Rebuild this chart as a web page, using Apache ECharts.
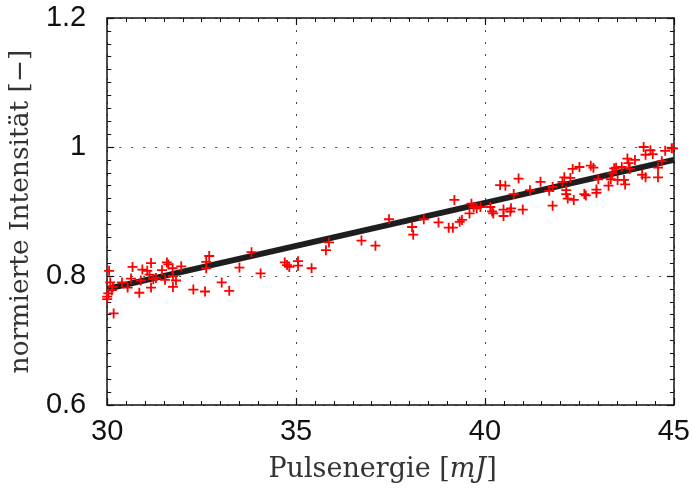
<!DOCTYPE html>
<html>
<head>
<meta charset="utf-8">
<script src="https://cdn.jsdelivr.net/npm/echarts@6/dist/echarts.min.js"></script>
<style>
html, body { margin: 0; padding: 0; background: #fff; }
#chart { width: 693px; height: 488px; }
</style>
</head>
<body>
<div id="chart"></div>
<script>
// Messpunkte (Pulsenergie in mJ, normierte Intensität)
var pulseX = [
  30.05, 30.08, 30.15, 30.12, 30.03, 30.00, 30.00, 30.17, 30.39, 30.54,
  30.63, 30.67, 30.85, 30.89, 30.93, 31.06, 31.16, 31.16, 31.12, 31.22,
  31.29, 31.45, 31.53, 31.58, 31.62, 31.73, 31.74, 31.82, 31.74, 31.96,
  32.28, 32.59, 32.62, 32.70, 32.62, 33.03, 33.23, 33.50, 33.82, 34.06,
  34.70, 34.76, 34.82, 35.05, 35.05, 35.41, 35.79, 35.87, 36.73, 37.10,
  37.46, 38.07, 38.10, 38.38, 38.77, 39.04, 39.15, 39.19, 39.33, 39.39,
  39.59, 39.64, 39.70, 39.78, 39.88, 40.14, 40.19, 40.22, 40.40, 40.54,
  40.49, 40.49, 40.69, 40.67, 40.76, 40.89, 41.00, 41.19, 41.47, 41.70,
  41.79, 41.79, 42.05, 42.10, 42.15, 42.15, 42.19, 42.26, 42.32, 42.35,
  42.50, 42.63, 42.67, 42.80, 42.87, 42.95, 42.95, 43.00, 43.27, 43.33,
  43.37, 43.42, 43.47, 43.51, 43.62, 43.68, 43.71, 43.77, 43.80, 43.83,
  43.97, 44.16, 44.25, 44.20, 44.25, 44.38, 44.44, 44.58, 44.58, 44.68,
  44.77, 44.94, 44.98
];
var intensY = [
  0.808, 0.790, 0.783, 0.778, 0.773, 0.768, 0.764, 0.742, 0.790, 0.782,
  0.796, 0.814, 0.774, 0.793, 0.810, 0.808, 0.820, 0.782, 0.802, 0.795,
  0.797, 0.809, 0.794, 0.821, 0.818, 0.812, 0.800, 0.793, 0.783, 0.815,
  0.779, 0.776, 0.822, 0.831, 0.812, 0.790, 0.777, 0.813, 0.837, 0.804,
  0.821, 0.817, 0.814, 0.823, 0.816, 0.812, 0.840, 0.852, 0.855, 0.847,
  0.888, 0.876, 0.864, 0.888, 0.883, 0.875, 0.875, 0.918, 0.884, 0.887,
  0.897, 0.912, 0.907, 0.905, 0.907, 0.907, 0.900, 0.897, 0.941, 0.940,
  0.903, 0.893, 0.905, 0.900, 0.927, 0.951, 0.903, 0.933, 0.946, 0.932,
  0.938, 0.909, 0.946, 0.953, 0.933, 0.927, 0.920, 0.952, 0.966, 0.918,
  0.969, 0.927, 0.925, 0.971, 0.968, 0.934, 0.929, 0.950, 0.940, 0.950,
  0.959, 0.967, 0.968, 0.949, 0.969, 0.949, 0.942, 0.982, 0.975, 0.966,
  0.980, 0.957, 0.953, 1.000, 0.988, 0.995, 0.989, 0.968, 0.953, 0.978,
  0.994, 0.998, 0.998
];
// Ausgleichsgerade
var fitX = [30, 45];
var fitY = [0.78, 0.98];

var xTicks = [30, 35, 40, 45];
var yTicks = [0.6, 0.8, 1, 1.2];

var chart = echarts.init(document.getElementById('chart'));

var pts = pulseX.map(function (x, i) { return [x, intensY[i]]; });
var fit = fitX.map(function (x, i) { return [x, fitY[i]]; });

var plus = 'path://M4.1,0h1.8v4.1h4.1v1.8h-4.1v4.1h-1.8v-4.1h-4.1v-1.8h4.1z';
var tickFont = { color: '#111', fontFamily: 'Liberation Sans, Arial, sans-serif', fontSize: 29 };

function baseAxis(extra) {
  var ax = {
    type: 'value',
    axisLine: { show: true, onZero: false, lineStyle: { color: '#111', width: 1.5 } },
    axisTick: { show: true, inside: true, length: 7, lineStyle: { color: '#111', width: 1.2 } },
    minorTick: { show: true, splitNumber: 10, length: 4, lineStyle: { color: '#111', width: 1 } },
    splitLine: { show: false }
  };
  return Object.assign(ax, extra);
}

chart.setOption({
  animation: false,
  grid: { left: 107, right: 18, top: 18, bottom: 83 },
  xAxis: [
    baseAxis({
      position: 'bottom', min: 30, max: 45, interval: 5,
      axisLabel: Object.assign({ margin: 12, formatter: function (v) { return xTicks.indexOf(v) >= 0 ? v : ''; } }, tickFont),
      splitLine: { show: true, lineStyle: { color: '#444', type: [2, 10], width: 1 } },
      name: 'Pulsenergie [{i|mJ}]',
      nameLocation: 'middle', nameGap: 51,
      nameTextStyle: {
        fontFamily: 'DejaVu Serif, serif', fontSize: 27, color: '#333', padding: [0, 16, 0, 0],
        rich: { i: { fontFamily: 'DejaVu Serif, serif', fontStyle: 'italic', fontSize: 27, color: '#333' } }
      }
    }),
    baseAxis({ position: 'top', min: 30, max: 45, interval: 5, axisLabel: { show: false } })
  ],
  yAxis: [
    baseAxis({
      position: 'left', min: 0.6, max: 1.2, interval: 0.2,
      axisLabel: Object.assign({ margin: 21, formatter: function (v) {
        var r = Math.round(v * 10) / 10;
        return r === 1 ? '1' : r.toFixed(1);
      } }, tickFont),
      splitLine: { show: true, lineStyle: { color: '#444', type: [2, 10], width: 1 } },
      name: 'normierte Intensität [−]',
      nameLocation: 'middle', nameGap: 63,
      nameTextStyle: { fontFamily: 'DejaVu Serif, serif', fontSize: 26.5, color: '#333' }
    }),
    baseAxis({ position: 'right', min: 0.6, max: 1.2, interval: 0.2, axisLabel: { show: false } })
  ],
  series: [
    {
      type: 'line',
      data: fit,
      symbol: 'none',
      lineStyle: { color: '#1e1e1e', width: 6 },
      z: 2
    },
    {
      type: 'scatter',
      data: pts,
      symbol: plus,
      symbolSize: 10,
      itemStyle: { color: '#ff0000', opacity: 1 },
      z: 3
    }
  ]
});
</script>
</body>
</html>
